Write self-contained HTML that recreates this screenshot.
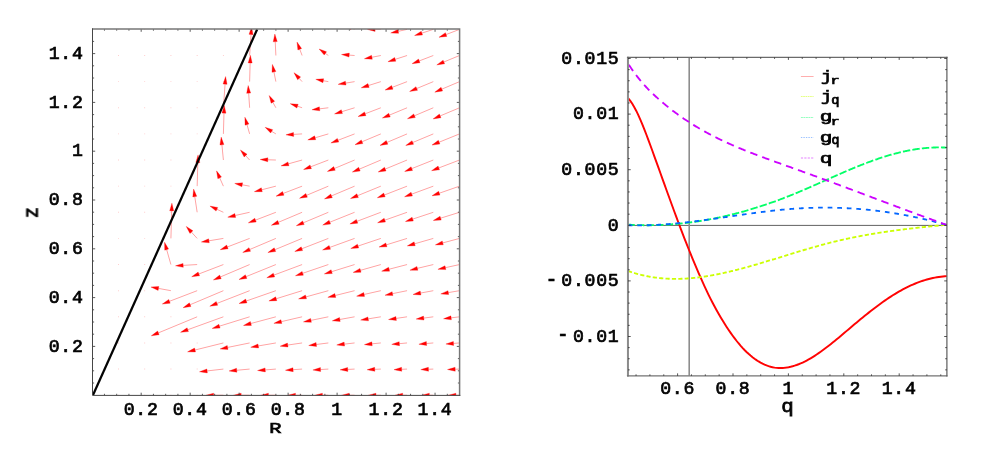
<!DOCTYPE html><html><head><meta charset="utf-8"><title>plot</title>
<style>html,body{margin:0;padding:0;background:#fff}svg{display:block}text{font-family:"Liberation Mono",monospace;font-weight:normal;fill:#000;stroke:#000;stroke-width:0.7px;letter-spacing:0.73px}</style></head><body>
<svg width="981" height="467" viewBox="0 0 981 467">
<rect width="981" height="467" fill="#fff"/>
<g opacity="0.99">
<defs><clipPath id="cl"><rect x="92.50" y="29.10" width="367.00" height="366.30"/></clipPath>
<clipPath id="cr"><rect x="628.30" y="57.40" width="318.60" height="318.45"/></clipPath></defs>
<g clip-path="url(#cl)">
<path d="M91.75,368.62 h0.9 v0.9 h-0.9 Z M91.75,342.49 h0.9 v0.9 h-0.9 Z M91.75,316.36 h0.9 v0.9 h-0.9 Z M91.75,290.23 h0.9 v0.9 h-0.9 Z M91.75,264.10 h0.9 v0.9 h-0.9 Z M91.75,237.97 h0.9 v0.9 h-0.9 Z M91.75,211.84 h0.9 v0.9 h-0.9 Z M91.75,185.71 h0.9 v0.9 h-0.9 Z M91.75,159.58 h0.9 v0.9 h-0.9 Z M91.75,133.45 h0.9 v0.9 h-0.9 Z M91.75,107.32 h0.9 v0.9 h-0.9 Z M91.75,81.19 h0.9 v0.9 h-0.9 Z M91.75,55.06 h0.9 v0.9 h-0.9 Z M91.75,28.93 h0.9 v0.9 h-0.9 Z M117.99,394.75 h0.9 v0.9 h-0.9 Z M117.99,368.62 h0.9 v0.9 h-0.9 Z M117.99,342.49 h0.9 v0.9 h-0.9 Z M117.99,316.36 h0.9 v0.9 h-0.9 Z M117.99,290.23 h0.9 v0.9 h-0.9 Z M117.99,264.10 h0.9 v0.9 h-0.9 Z M117.99,237.97 h0.9 v0.9 h-0.9 Z M117.99,211.84 h0.9 v0.9 h-0.9 Z M117.99,185.71 h0.9 v0.9 h-0.9 Z M117.99,159.58 h0.9 v0.9 h-0.9 Z M117.99,133.45 h0.9 v0.9 h-0.9 Z M117.99,107.32 h0.9 v0.9 h-0.9 Z M117.99,81.19 h0.9 v0.9 h-0.9 Z M117.99,55.06 h0.9 v0.9 h-0.9 Z M117.99,28.93 h0.9 v0.9 h-0.9 Z M144.23,394.75 h0.9 v0.9 h-0.9 Z M144.23,368.62 h0.9 v0.9 h-0.9 Z M144.23,342.49 h0.9 v0.9 h-0.9 Z M144.23,316.36 h0.9 v0.9 h-0.9 Z M144.23,290.23 h0.9 v0.9 h-0.9 Z M144.23,264.10 h0.9 v0.9 h-0.9 Z M144.23,237.97 h0.9 v0.9 h-0.9 Z M144.23,211.84 h0.9 v0.9 h-0.9 Z M144.23,185.71 h0.9 v0.9 h-0.9 Z M144.23,159.58 h0.9 v0.9 h-0.9 Z M144.23,133.45 h0.9 v0.9 h-0.9 Z M144.23,107.32 h0.9 v0.9 h-0.9 Z M144.23,81.19 h0.9 v0.9 h-0.9 Z M144.23,55.06 h0.9 v0.9 h-0.9 Z M144.23,28.93 h0.9 v0.9 h-0.9 Z M170.47,394.75 h0.9 v0.9 h-0.9 Z M170.47,368.62 h0.9 v0.9 h-0.9 Z M170.47,342.49 h0.9 v0.9 h-0.9 Z M170.47,316.36 h0.9 v0.9 h-0.9 Z M170.47,211.84 h0.9 v0.9 h-0.9 Z M170.47,185.71 h0.9 v0.9 h-0.9 Z M170.47,159.58 h0.9 v0.9 h-0.9 Z M170.47,133.45 h0.9 v0.9 h-0.9 Z M170.47,107.32 h0.9 v0.9 h-0.9 Z M170.47,81.19 h0.9 v0.9 h-0.9 Z M170.47,55.06 h0.9 v0.9 h-0.9 Z M170.47,28.93 h0.9 v0.9 h-0.9 Z M196.71,394.75 h0.9 v0.9 h-0.9 Z M196.71,368.62 h0.9 v0.9 h-0.9 Z M196.71,342.49 h0.9 v0.9 h-0.9 Z M196.71,159.58 h0.9 v0.9 h-0.9 Z M196.71,133.45 h0.9 v0.9 h-0.9 Z M196.71,107.32 h0.9 v0.9 h-0.9 Z M196.71,81.19 h0.9 v0.9 h-0.9 Z M196.71,55.06 h0.9 v0.9 h-0.9 Z M196.71,28.93 h0.9 v0.9 h-0.9 Z M222.95,81.19 h0.9 v0.9 h-0.9 Z M222.95,55.06 h0.9 v0.9 h-0.9 Z M222.95,28.93 h0.9 v0.9 h-0.9 Z M249.19,28.93 h0.9 v0.9 h-0.9 Z" fill="#ff9a9a" opacity="0.55"/>
<path d="M170.92,290.68 L158.50,288.42 M170.92,264.55 L166.65,249.59 M170.92,238.42 L171.70,210.83 M197.16,316.81 L158.41,332.87 M197.16,290.68 L169.48,301.30 M197.16,264.55 L183.17,265.38 M197.16,238.42 L191.43,232.12 M197.16,212.29 L194.77,196.64 M197.16,186.16 L197.83,162.58 M223.40,395.20 L213.64,395.23 M223.40,369.07 L207.12,370.93 M223.40,342.94 L195.04,350.00 M223.40,316.81 L187.78,329.71 M223.40,290.68 L190.17,304.71 M223.40,264.55 L198.84,273.97 M223.40,238.42 L208.93,240.80 M223.40,212.29 L216.91,209.31 M223.40,186.16 L219.66,177.85 M223.40,160.03 L221.92,144.78 M223.40,133.90 L223.99,113.12 M223.40,107.77 L225.07,84.23 M249.64,395.20 L241.17,395.23 M249.64,369.07 L236.74,370.27 M249.64,342.94 L227.63,347.43 M249.64,316.81 L219.49,326.17 M249.64,290.68 L216.95,303.42 M249.64,264.55 L220.46,276.93 M249.64,238.42 L227.42,246.95 M249.64,212.29 L235.24,215.47 M249.64,186.16 L242.27,184.82 M249.64,160.03 L245.62,155.61 M249.64,133.90 L246.98,124.59 M249.64,107.77 L248.67,93.22 M249.64,81.64 L250.17,62.96 M249.64,55.51 L251.05,34.51 M275.88,395.20 L268.42,395.22 M275.88,369.07 L265.23,369.91 M275.88,342.94 L258.31,345.95 M275.88,316.81 L250.89,323.49 M275.88,290.68 L246.30,300.99 M275.88,264.55 L246.12,276.62 M275.88,238.42 L249.77,249.49 M275.88,212.29 L255.51,220.11 M275.88,186.16 L261.80,189.75 M275.88,160.03 L267.82,159.77 M275.88,133.90 L271.67,131.33 M275.88,107.77 L272.87,102.27 M275.88,81.64 L273.92,71.93 M275.88,55.51 L275.22,41.71 M275.88,29.38 L276.36,12.35 M302.12,395.20 L295.49,395.22 M302.12,369.07 L293.09,369.69 M302.12,342.94 L287.73,345.06 M302.12,316.81 L281.38,321.63 M302.12,290.68 L276.24,298.72 M302.12,264.55 L273.99,275.05 M302.12,238.42 L274.95,249.68 M302.12,212.29 L278.43,222.30 M302.12,186.16 L283.25,193.40 M302.12,160.03 L288.47,163.82 M302.12,133.90 L293.60,134.40 M302.12,107.77 L297.54,106.19 M302.12,81.64 L299.14,78.37 M302.12,55.51 L299.75,49.27 M302.12,29.38 L300.63,19.61 M328.36,395.20 L322.42,395.22 M328.36,369.07 L320.55,369.54 M328.36,342.94 L316.33,344.49 M328.36,316.81 L310.98,320.36 M328.36,290.68 L305.99,296.89 M328.36,264.55 L302.74,273.27 M328.36,238.42 L301.91,248.73 M328.36,212.29 L303.42,222.75 M328.36,186.16 L306.62,195.31 M328.36,160.03 L310.75,166.79 M328.36,133.90 L315.17,137.78 M328.36,107.77 L319.58,108.83 M328.36,81.64 L323.33,80.72 M328.36,55.51 L325.40,53.43 M328.36,29.38 L325.97,25.47 M354.60,395.20 L349.25,395.22 M354.60,369.07 L347.75,369.44 M354.60,342.94 L344.36,344.11 M354.60,316.81 L339.86,319.48 M354.60,290.68 L335.29,295.49 M354.60,264.55 L331.69,271.66 M354.60,238.42 L329.80,247.40 M354.60,212.29 L329.82,222.23 M354.60,186.16 L331.55,195.89 M354.60,160.03 L334.47,168.47 M354.60,133.90 L338.06,140.25 M354.60,107.77 L341.87,111.66 M354.60,81.64 L345.70,83.10 M354.60,55.51 L349.17,55.11 M354.60,29.38 L351.52,27.96 M380.84,395.20 L376.00,395.21 M380.84,369.07 L374.77,369.37 M380.84,342.94 L372.01,343.84 M380.84,316.81 L368.20,318.87 M380.84,290.68 L364.13,294.44 M380.84,264.55 L360.52,270.31 M380.84,238.42 L358.07,246.06 M380.84,212.29 L357.10,221.27 M380.84,186.16 L357.62,195.66 M380.84,160.03 L359.42,169.11 M380.84,133.90 L362.08,141.73 M380.84,107.77 L365.23,113.76 M380.84,81.64 L368.56,85.51 M380.84,55.51 L371.93,57.26 M380.84,29.38 L375.10,29.39 M407.08,395.20 L402.69,395.21 M407.08,369.07 L401.66,369.31 M407.08,342.94 L399.37,343.66 M407.08,316.81 L396.14,318.42 M407.08,290.68 L392.53,293.65 M407.08,264.55 L389.10,269.22 M407.08,238.42 L386.40,244.84 M407.08,212.29 L384.81,220.18 M407.08,186.16 L384.46,194.98 M407.08,160.03 L385.28,169.06 M407.08,133.90 L387.06,142.39 M407.08,107.77 L389.48,115.09 M407.08,81.64 L392.29,87.32 M407.08,55.51 L395.24,59.33 M407.08,29.38 L398.22,31.34 M433.32,395.20 L429.33,395.21 M433.32,369.07 L428.46,369.27 M433.32,342.94 L426.53,343.52 M433.32,316.81 L423.77,318.09 M433.32,290.68 L420.58,293.06 M433.32,264.55 L417.40,268.35 M433.32,238.42 L414.66,243.79 M433.32,212.29 L412.71,219.12 M433.32,186.16 L411.76,194.12 M433.32,160.03 L411.81,168.60 M433.32,133.90 L412.80,142.48 M433.32,107.77 L414.52,115.74 M433.32,81.64 L416.74,88.51 M433.32,55.51 L419.26,60.91 M433.32,29.38 L421.89,33.13 M459.56,395.20 L455.93,395.21 M459.56,369.07 L455.18,369.24 M459.56,342.94 L453.54,343.41 M459.56,316.81 L451.16,317.85 M459.56,290.68 L448.34,292.60 M459.56,264.55 L445.44,267.66 M459.56,238.42 L442.76,242.91 M459.56,212.29 L440.64,218.16 M459.56,186.16 L439.29,193.22 M459.56,160.03 L438.79,167.94 M459.56,133.90 L439.12,142.19 M459.56,107.77 L440.19,115.91 M459.56,81.64 L441.84,89.15 M459.56,55.51 L443.87,61.99 M459.56,29.38 L446.15,34.53" stroke="#ff0000" stroke-width="0.55" fill="none" stroke-opacity="0.68"/>
<path d="M150.93,287.04 L158.86,286.45 L158.14,290.39 Z M164.54,242.18 L168.57,249.04 L164.73,250.13 Z M171.92,203.13 L173.70,210.88 L169.70,210.77 Z M151.29,335.81 L157.64,331.02 L159.17,334.72 Z M162.30,304.06 L168.77,299.43 L170.20,303.17 Z M175.48,265.83 L183.05,263.38 L183.29,267.37 Z M186.24,226.42 L192.91,230.77 L189.95,233.46 Z M193.61,189.03 L196.75,196.34 L192.79,196.94 Z M198.05,154.89 L199.83,162.64 L195.83,162.53 Z M205.94,395.25 L213.63,393.23 L213.64,397.23 Z M199.47,371.80 L206.89,368.94 L207.35,372.91 Z M187.57,351.86 L194.56,348.06 L195.53,351.94 Z M180.54,332.33 L187.10,327.83 L188.46,331.59 Z M183.07,307.71 L189.39,302.87 L190.94,306.56 Z M191.65,276.73 L198.13,272.11 L199.56,275.84 Z M201.33,242.05 L208.61,238.82 L209.26,242.77 Z M209.91,206.09 L217.75,207.49 L216.07,211.12 Z M216.50,170.83 L221.48,177.03 L217.83,178.67 Z M221.18,137.12 L223.91,144.59 L219.93,144.97 Z M224.21,105.42 L225.99,113.18 L221.99,113.06 Z M225.62,76.55 L227.07,84.37 L223.08,84.09 Z M233.47,395.25 L241.16,393.23 L241.17,397.23 Z M229.07,370.98 L236.55,368.28 L236.92,372.26 Z M220.08,348.98 L227.23,345.48 L228.03,349.39 Z M212.14,328.45 L218.90,324.26 L220.08,328.08 Z M209.78,306.22 L216.23,301.56 L217.68,305.29 Z M213.37,279.94 L219.68,275.09 L221.24,278.77 Z M220.23,249.71 L226.71,245.08 L228.14,248.81 Z M227.72,217.13 L234.81,213.52 L235.67,217.42 Z M234.70,183.44 L242.63,182.85 L241.91,186.79 Z M240.43,149.91 L247.09,154.26 L244.14,156.95 Z M244.87,117.18 L248.91,124.04 L245.06,125.13 Z M248.16,85.53 L250.66,93.08 L246.67,93.35 Z M250.39,55.26 L252.17,63.02 L248.17,62.90 Z M251.57,26.82 L253.05,34.64 L249.06,34.37 Z M260.72,395.25 L268.41,393.22 L268.43,397.22 Z M257.56,370.51 L265.08,367.91 L265.39,371.90 Z M250.72,347.26 L257.97,343.98 L258.65,347.93 Z M243.45,325.48 L250.37,321.56 L251.41,325.43 Z M239.03,303.52 L245.64,299.10 L246.96,302.88 Z M238.98,279.51 L245.37,274.76 L246.87,278.47 Z M242.69,252.49 L248.99,247.64 L250.56,251.33 Z M248.32,222.87 L254.79,218.24 L256.22,221.98 Z M254.34,191.66 L261.31,187.81 L262.29,191.69 Z M260.12,159.51 L267.88,157.77 L267.75,161.77 Z M265.10,127.32 L272.71,129.63 L270.63,133.04 Z M269.18,95.52 L274.63,101.31 L271.12,103.23 Z M272.39,64.38 L275.88,71.54 L271.96,72.33 Z M274.85,34.02 L277.22,41.62 L273.22,41.81 Z M276.58,4.66 L278.36,12.41 L274.36,12.30 Z M287.79,395.24 L295.48,393.22 L295.49,397.22 Z M285.40,370.21 L292.95,367.69 L293.22,371.68 Z M280.11,346.18 L287.44,343.08 L288.02,347.04 Z M273.88,323.37 L280.93,319.68 L281.83,323.58 Z M268.89,301.00 L275.65,296.81 L276.83,300.63 Z M266.78,277.74 L273.29,273.18 L274.69,276.92 Z M267.84,252.62 L274.19,247.83 L275.72,251.52 Z M271.34,225.30 L277.65,220.46 L279.21,224.14 Z M276.06,196.16 L282.53,191.53 L283.97,195.27 Z M281.05,165.89 L287.93,161.90 L289.00,165.75 Z M285.92,134.86 L293.49,132.41 L293.72,136.40 Z M290.26,103.68 L298.19,104.30 L296.88,108.08 Z M293.96,72.67 L300.62,77.02 L297.66,79.71 Z M297.01,42.07 L301.62,48.56 L297.88,49.98 Z M299.46,11.99 L302.60,19.30 L298.65,19.91 Z M314.72,395.24 L322.41,393.22 L322.42,397.22 Z M312.86,370.00 L320.43,367.54 L320.67,371.54 Z M308.69,345.47 L316.07,342.50 L316.58,346.47 Z M303.43,321.90 L310.58,318.40 L311.38,322.32 Z M298.57,298.95 L305.45,294.96 L306.52,298.82 Z M295.45,275.75 L302.10,271.38 L303.39,275.17 Z M294.74,251.53 L301.19,246.87 L302.64,250.59 Z M296.31,225.73 L302.64,220.91 L304.19,224.60 Z M299.52,198.30 L305.84,193.47 L307.40,197.15 Z M303.56,169.55 L310.03,164.92 L311.46,168.66 Z M307.78,139.95 L314.60,135.86 L315.73,139.70 Z M311.94,109.75 L319.34,106.84 L319.82,110.81 Z M315.76,79.34 L323.69,78.76 L322.97,82.69 Z M319.11,49.00 L326.55,51.79 L324.25,55.07 Z M321.96,18.90 L327.68,24.43 L324.27,26.51 Z M341.55,395.24 L349.24,393.22 L349.25,397.22 Z M340.06,369.86 L347.64,367.44 L347.86,371.44 Z M336.71,344.98 L344.14,342.12 L344.59,346.09 Z M332.28,320.86 L339.50,317.52 L340.21,321.45 Z M327.82,297.35 L334.81,293.55 L335.78,297.43 Z M324.34,273.95 L331.10,269.75 L332.29,273.57 Z M322.56,250.02 L329.12,245.52 L330.48,249.28 Z M322.68,225.10 L329.08,220.37 L330.57,224.09 Z M324.46,198.89 L330.77,194.05 L332.33,197.73 Z M327.37,171.44 L333.70,166.62 L335.25,170.31 Z M330.87,143.01 L337.34,138.38 L338.78,142.11 Z M334.51,113.92 L341.29,109.75 L342.46,113.58 Z M338.11,84.35 L345.38,81.13 L346.03,85.08 Z M341.49,54.54 L349.32,53.11 L349.03,57.10 Z M344.52,24.75 L352.35,26.15 L350.68,29.78 Z M368.30,395.24 L375.99,393.21 L376.01,397.21 Z M367.08,369.75 L374.67,367.37 L374.87,371.37 Z M364.35,344.63 L371.80,341.85 L372.21,345.83 Z M360.60,320.10 L367.88,316.89 L368.52,320.84 Z M356.61,296.13 L363.69,292.49 L364.57,296.39 Z M353.11,272.42 L359.97,268.39 L361.07,272.24 Z M350.77,248.50 L357.43,244.16 L358.70,247.95 Z M349.89,223.99 L356.39,219.39 L357.80,223.14 Z M350.49,198.57 L356.86,193.81 L358.38,197.51 Z M352.33,172.11 L358.64,167.27 L360.20,170.95 Z M354.97,144.70 L361.30,139.89 L362.85,143.58 Z M358.04,116.52 L364.52,111.89 L365.95,115.63 Z M361.22,87.82 L367.96,83.60 L369.17,87.42 Z M364.37,58.75 L371.54,55.30 L372.31,59.22 Z M367.40,29.41 L375.09,27.39 L375.10,31.39 Z M394.99,395.24 L402.68,393.21 L402.70,397.21 Z M393.97,369.66 L401.57,367.32 L401.75,371.31 Z M391.71,344.37 L399.19,341.66 L399.56,345.65 Z M388.52,319.54 L395.85,316.44 L396.43,320.40 Z M384.99,295.19 L392.13,291.69 L392.93,295.61 Z M381.65,271.16 L388.60,267.29 L389.60,271.16 Z M379.05,247.12 L385.81,242.93 L387.00,246.75 Z M377.56,222.75 L384.15,218.29 L385.48,222.06 Z M377.29,197.77 L383.73,193.11 L385.19,196.84 Z M378.17,172.01 L384.51,167.22 L386.05,170.91 Z M379.97,145.40 L386.28,140.55 L387.84,144.23 Z M382.37,118.04 L388.72,113.24 L390.25,116.93 Z M385.10,90.07 L391.57,85.45 L393.01,89.18 Z M387.91,61.69 L394.63,57.43 L395.85,61.23 Z M390.70,33.00 L397.78,29.39 L398.65,33.29 Z M421.63,395.24 L429.32,393.21 L429.34,397.21 Z M420.77,369.60 L428.38,367.28 L428.54,371.27 Z M418.86,344.17 L426.36,341.52 L426.70,345.51 Z M416.13,319.12 L423.50,316.11 L424.03,320.07 Z M413.01,294.47 L420.21,291.09 L420.95,295.02 Z M409.92,270.14 L416.94,266.41 L417.87,270.30 Z M407.26,245.92 L414.10,241.87 L415.21,245.72 Z M405.40,221.55 L412.08,217.22 L413.34,221.02 Z M404.53,196.78 L411.06,192.24 L412.45,195.99 Z M404.66,171.46 L411.07,166.75 L412.56,170.46 Z M405.70,145.45 L412.03,140.63 L413.57,144.32 Z M407.43,118.75 L413.74,113.90 L415.30,117.59 Z M409.62,91.46 L415.97,86.66 L417.50,90.36 Z M412.07,63.67 L418.54,59.04 L419.97,62.77 Z M414.58,35.54 L421.27,31.23 L422.52,35.03 Z M448.23,395.23 L455.92,393.21 L455.93,397.21 Z M447.49,369.54 L455.10,367.24 L455.26,371.24 Z M445.86,344.02 L453.38,341.42 L453.70,345.41 Z M443.52,318.79 L450.91,315.86 L451.40,319.83 Z M440.75,293.91 L448.00,290.63 L448.68,294.58 Z M437.92,269.32 L445.01,265.71 L445.87,269.62 Z M435.32,244.90 L442.24,240.98 L443.28,244.85 Z M433.29,220.45 L440.05,216.25 L441.23,220.07 Z M432.02,195.76 L438.63,191.34 L439.95,195.11 Z M431.59,170.68 L438.08,166.07 L439.50,169.81 Z M431.98,145.08 L438.37,140.33 L439.87,144.04 Z M433.10,118.90 L439.42,114.07 L440.97,117.76 Z M434.75,92.16 L441.06,87.31 L442.62,90.99 Z M436.75,64.92 L443.11,60.14 L444.63,63.84 Z M438.96,37.29 L445.43,32.66 L446.86,36.39 Z" fill="#ff0000" stroke="#ff0000" stroke-width="0.3"/>
<line x1="92.90" y1="395.20" x2="257.20" y2="29.30" stroke="#000" stroke-width="2.25"/>
</g>
<path d="M104.45,395.40 v-1.60 M104.45,29.10 v1.60 M92.50,383.00 h1.60 M459.50,383.00 h-1.60 M116.69,395.40 v-1.60 M116.69,29.10 v1.60 M92.50,370.80 h1.60 M459.50,370.80 h-1.60 M128.94,395.40 v-1.60 M128.94,29.10 v1.60 M92.50,358.60 h1.60 M459.50,358.60 h-1.60 M141.18,395.40 v-2.70 M141.18,29.10 v2.70 M92.50,346.40 h2.70 M459.50,346.40 h-2.70 M153.43,395.40 v-1.60 M153.43,29.10 v1.60 M92.50,334.20 h1.60 M459.50,334.20 h-1.60 M165.67,395.40 v-1.60 M165.67,29.10 v1.60 M92.50,322.00 h1.60 M459.50,322.00 h-1.60 M177.92,395.40 v-1.60 M177.92,29.10 v1.60 M92.50,309.80 h1.60 M459.50,309.80 h-1.60 M190.16,395.40 v-2.70 M190.16,29.10 v2.70 M92.50,297.60 h2.70 M459.50,297.60 h-2.70 M202.41,395.40 v-1.60 M202.41,29.10 v1.60 M92.50,285.40 h1.60 M459.50,285.40 h-1.60 M214.65,395.40 v-1.60 M214.65,29.10 v1.60 M92.50,273.20 h1.60 M459.50,273.20 h-1.60 M226.90,395.40 v-1.60 M226.90,29.10 v1.60 M92.50,261.00 h1.60 M459.50,261.00 h-1.60 M239.14,395.40 v-2.70 M239.14,29.10 v2.70 M92.50,248.80 h2.70 M459.50,248.80 h-2.70 M251.38,395.40 v-1.60 M251.38,29.10 v1.60 M92.50,236.60 h1.60 M459.50,236.60 h-1.60 M263.63,395.40 v-1.60 M263.63,29.10 v1.60 M92.50,224.40 h1.60 M459.50,224.40 h-1.60 M275.88,395.40 v-1.60 M275.88,29.10 v1.60 M92.50,212.20 h1.60 M459.50,212.20 h-1.60 M288.12,395.40 v-2.70 M288.12,29.10 v2.70 M92.50,200.00 h2.70 M459.50,200.00 h-2.70 M300.37,395.40 v-1.60 M300.37,29.10 v1.60 M92.50,187.80 h1.60 M459.50,187.80 h-1.60 M312.61,395.40 v-1.60 M312.61,29.10 v1.60 M92.50,175.60 h1.60 M459.50,175.60 h-1.60 M324.86,395.40 v-1.60 M324.86,29.10 v1.60 M92.50,163.40 h1.60 M459.50,163.40 h-1.60 M337.10,395.40 v-2.70 M337.10,29.10 v2.70 M92.50,151.20 h2.70 M459.50,151.20 h-2.70 M349.35,395.40 v-1.60 M349.35,29.10 v1.60 M92.50,139.00 h1.60 M459.50,139.00 h-1.60 M361.59,395.40 v-1.60 M361.59,29.10 v1.60 M92.50,126.80 h1.60 M459.50,126.80 h-1.60 M373.84,395.40 v-1.60 M373.84,29.10 v1.60 M92.50,114.60 h1.60 M459.50,114.60 h-1.60 M386.08,395.40 v-2.70 M386.08,29.10 v2.70 M92.50,102.40 h2.70 M459.50,102.40 h-2.70 M398.32,395.40 v-1.60 M398.32,29.10 v1.60 M92.50,90.20 h1.60 M459.50,90.20 h-1.60 M410.57,395.40 v-1.60 M410.57,29.10 v1.60 M92.50,78.00 h1.60 M459.50,78.00 h-1.60 M422.81,395.40 v-1.60 M422.81,29.10 v1.60 M92.50,65.80 h1.60 M459.50,65.80 h-1.60 M435.06,395.40 v-2.70 M435.06,29.10 v2.70 M92.50,53.60 h2.70 M459.50,53.60 h-2.70 M447.31,395.40 v-1.60 M447.31,29.10 v1.60 M92.50,41.40 h1.60 M459.50,41.40 h-1.60" stroke="#303030" stroke-width="0.8" fill="none"/>
<path d="M92.00,29.10 H459.60 V395.90" fill="none" stroke="#757575" stroke-width="1.5"/>
<path d="M92.50,28.40 V395.40 H460.30" fill="none" stroke="#444444" stroke-width="1.0"/>
<text x="141.18" y="415.00" font-size="18.20" text-anchor="middle">0.2</text>
<text x="83.60" y="351.60" font-size="18.20" text-anchor="end">0.2</text>
<text x="190.16" y="415.00" font-size="18.20" text-anchor="middle">0.4</text>
<text x="83.60" y="302.80" font-size="18.20" text-anchor="end">0.4</text>
<text x="239.14" y="415.00" font-size="18.20" text-anchor="middle">0.6</text>
<text x="83.60" y="254.00" font-size="18.20" text-anchor="end">0.6</text>
<text x="288.12" y="415.00" font-size="18.20" text-anchor="middle">0.8</text>
<text x="83.60" y="205.20" font-size="18.20" text-anchor="end">0.8</text>
<text x="337.10" y="415.00" font-size="18.20" text-anchor="middle">1</text>
<text x="83.60" y="156.40" font-size="18.20" text-anchor="end">1</text>
<text x="386.08" y="415.00" font-size="18.20" text-anchor="middle">1.2</text>
<text x="83.60" y="107.60" font-size="18.20" text-anchor="end">1.2</text>
<text x="435.06" y="415.00" font-size="18.20" text-anchor="middle">1.4</text>
<text x="83.60" y="58.80" font-size="18.20" text-anchor="end">1.4</text>
<text transform="matrix(0.2039 0 0 0.1485 269.17 432.90)" font-size="100" style="letter-spacing:0;stroke-width:4.54px;font-weight:normal">R</text>
<text transform="matrix(0 -0.1848 0.2094 0 37.60 218.19)" font-size="100" style="letter-spacing:0;stroke-width:4.06px;font-weight:normal">z</text>
<g clip-path="url(#cr)">
<line x1="628.30" y1="225.40" x2="946.90" y2="225.40" stroke="#606060" stroke-width="1.0"/>
<line x1="689.20" y1="57.40" x2="689.20" y2="375.85" stroke="#8c8c8c" stroke-width="1.6"/>
<path d="M628.30,98.48 L630.30,100.89 L632.31,103.80 L634.31,107.17 L636.32,110.94 L638.32,115.09 L640.32,119.56 L642.33,124.32 L644.33,129.31 L646.33,134.50 L648.34,139.83 L650.34,145.28 L652.35,150.79 L654.35,156.32 L656.35,161.88 L658.36,167.44 L660.36,173.02 L662.36,178.59 L664.37,184.16 L666.37,189.72 L668.38,195.26 L670.38,200.78 L672.38,206.27 L674.39,211.73 L676.39,217.15 L678.39,222.52 L680.40,227.84 L682.40,233.10 L684.41,238.30 L686.41,243.44 L688.41,248.49 L690.42,253.47 L692.42,258.37 L694.42,263.19 L696.43,267.93 L698.43,272.59 L700.44,277.18 L702.44,281.70 L704.44,286.12 L706.45,290.43 L708.45,294.60 L710.45,298.64 L712.46,302.54 L714.46,306.32 L716.47,309.98 L718.47,313.53 L720.47,316.96 L722.48,320.29 L724.48,323.53 L726.48,326.67 L728.49,329.71 L730.49,332.64 L732.50,335.47 L734.50,338.18 L736.50,340.77 L738.51,343.25 L740.51,345.60 L742.52,347.84 L744.52,349.95 L746.52,351.95 L748.53,353.83 L750.53,355.59 L752.53,357.24 L754.54,358.76 L756.54,360.17 L758.55,361.46 L760.55,362.63 L762.55,363.69 L764.56,364.63 L766.56,365.46 L768.56,366.16 L770.57,366.76 L772.57,367.23 L774.58,367.60 L776.58,367.85 L778.58,368.00 L780.59,368.04 L782.59,367.98 L784.59,367.83 L786.60,367.58 L788.60,367.24 L790.61,366.81 L792.61,366.29 L794.61,365.69 L796.62,365.01 L798.62,364.26 L800.62,363.43 L802.63,362.53 L804.63,361.56 L806.64,360.52 L808.64,359.43 L810.64,358.28 L812.65,357.07 L814.65,355.81 L816.65,354.49 L818.66,353.13 L820.66,351.73 L822.67,350.29 L824.67,348.81 L826.67,347.29 L828.68,345.75 L830.68,344.17 L832.68,342.57 L834.69,340.94 L836.69,339.30 L838.70,337.64 L840.70,335.96 L842.70,334.28 L844.71,332.58 L846.71,330.88 L848.72,329.18 L850.72,327.49 L852.72,325.79 L854.73,324.10 L856.73,322.43 L858.73,320.76 L860.74,319.10 L862.74,317.46 L864.75,315.83 L866.75,314.22 L868.75,312.62 L870.76,311.04 L872.76,309.49 L874.76,307.95 L876.77,306.44 L878.77,304.95 L880.78,303.48 L882.78,302.04 L884.78,300.63 L886.79,299.25 L888.79,297.90 L890.79,296.58 L892.80,295.30 L894.80,294.05 L896.81,292.84 L898.81,291.66 L900.81,290.53 L902.82,289.43 L904.82,288.37 L906.82,287.36 L908.83,286.39 L910.83,285.46 L912.84,284.57 L914.84,283.73 L916.84,282.93 L918.85,282.17 L920.85,281.45 L922.85,280.78 L924.86,280.15 L926.86,279.56 L928.87,279.02 L930.87,278.52 L932.87,278.07 L934.88,277.66 L936.88,277.29 L938.88,276.97 L940.89,276.70 L942.89,276.47 L944.90,276.28 L946.90,276.14" stroke="#ff0000" stroke-width="1.95" fill="none"/>
<path d="M628.30,271.06 L629.10,271.34 L629.90,271.61 L630.70,271.88 L631.49,272.15 L632.29,272.40 L633.09,272.66 L633.89,272.90 L634.69,273.15 L635.49,273.38 L636.28,273.61 L637.08,273.84 L637.88,274.06 L638.68,274.27 L639.48,274.48 L640.28,274.68 L641.08,274.88 L641.87,275.07 L642.67,275.26 L643.47,275.44 L644.27,275.62 L645.07,275.79 L645.87,275.96 L646.67,276.12 L647.46,276.28 L648.26,276.43 L649.06,276.58 L649.86,276.72 L650.66,276.86 L651.46,276.99 L652.25,277.12 L653.05,277.25 L653.85,277.36 L654.65,277.48 L655.45,277.59 L656.25,277.69 L657.05,277.79 L657.84,277.89 L658.64,277.98 L659.44,278.06 L660.24,278.14 L661.04,278.22 L661.84,278.29 L662.64,278.36 L663.43,278.43 L664.23,278.49 L665.03,278.54 L665.83,278.59 L666.63,278.64 L667.43,278.68 L668.22,278.72 L669.02,278.75 L669.82,278.78 L670.62,278.81 L671.42,278.83 L672.22,278.85 L673.02,278.86 L673.81,278.87 L674.61,278.88 L675.41,278.88 L676.21,278.88 L677.01,278.87 L677.81,278.86 L678.61,278.85 L679.40,278.83 L680.20,278.81 L681.00,278.79 L681.80,278.76 L682.60,278.73 L683.40,278.69 L684.19,278.65 L684.99,278.61 L685.79,278.56 L686.59,278.52 L687.39,278.46 L688.19,278.41 L688.99,278.35 L689.78,278.28 L690.58,278.22 L691.38,278.15 L692.18,278.08 L692.98,278.00 L693.78,277.92 L694.58,277.84 L695.37,277.75 L696.17,277.66 L696.97,277.57 L697.77,277.48 L698.57,277.38 L699.37,277.28 L700.16,277.18 L700.96,277.07 L701.76,276.96 L702.56,276.85 L703.36,276.73 L704.16,276.62 L704.96,276.50 L705.75,276.37 L706.55,276.25 L707.35,276.12 L708.15,275.99 L708.95,275.85 L709.75,275.72 L710.55,275.58 L711.34,275.44 L712.14,275.30 L712.94,275.15 L713.74,275.00 L714.54,274.85 L715.34,274.70 L716.13,274.54 L716.93,274.38 L717.73,274.22 L718.53,274.06 L719.33,273.90 L720.13,273.73 L720.93,273.56 L721.72,273.39 L722.52,273.22 L723.32,273.04 L724.12,272.87 L724.92,272.69 L725.72,272.51 L726.52,272.33 L727.31,272.14 L728.11,271.96 L728.91,271.77 L729.71,271.58 L730.51,271.39 L731.31,271.19 L732.10,271.00 L732.90,270.80 L733.70,270.60 L734.50,270.41 L735.30,270.20 L736.10,270.00 L736.90,269.80 L737.69,269.59 L738.49,269.38 L739.29,269.18 L740.09,268.97 L740.89,268.76 L741.69,268.54 L742.48,268.33 L743.28,268.11 L744.08,267.90 L744.88,267.68 L745.68,267.46 L746.48,267.24 L747.28,267.02 L748.07,266.80 L748.87,266.58 L749.67,266.35 L750.47,266.13 L751.27,265.90 L752.07,265.68 L752.87,265.45 L753.66,265.22 L754.46,264.99 L755.26,264.76 L756.06,264.53 L756.86,264.29 L757.66,264.06 L758.45,263.83 L759.25,263.59 L760.05,263.36 L760.85,263.12 L761.65,262.88 L762.45,262.65 L763.25,262.41 L764.04,262.17 L764.84,261.93 L765.64,261.69 L766.44,261.45 L767.24,261.21 L768.04,260.97 L768.84,260.72 L769.63,260.48 L770.43,260.24 L771.23,260.00 L772.03,259.75 L772.83,259.51 L773.63,259.26 L774.42,259.02 L775.22,258.77 L776.02,258.53 L776.82,258.28 L777.62,258.04 L778.42,257.79 L779.22,257.55 L780.01,257.30 L780.81,257.06 L781.61,256.81 L782.41,256.56 L783.21,256.32 L784.01,256.07 L784.81,255.83 L785.60,255.58 L786.40,255.33 L787.20,255.09 L788.00,254.84 L788.80,254.60 L789.60,254.35 L790.39,254.11 L791.19,253.86 L791.99,253.62 L792.79,253.37 L793.59,253.13 L794.39,252.89 L795.19,252.64 L795.98,252.40 L796.78,252.16 L797.58,251.92 L798.38,251.67 L799.18,251.43 L799.98,251.19 L800.78,250.95 L801.57,250.71 L802.37,250.47 L803.17,250.24 L803.97,250.00 L804.77,249.76 L805.57,249.53 L806.36,249.29 L807.16,249.05 L807.96,248.82 L808.76,248.59 L809.56,248.35 L810.36,248.12 L811.16,247.89 L811.95,247.66 L812.75,247.43 L813.55,247.21 L814.35,246.98 L815.15,246.75 L815.95,246.53 L816.75,246.30 L817.54,246.08 L818.34,245.86 L819.14,245.64 L819.94,245.42 L820.74,245.20 L821.54,244.98 L822.33,244.76 L823.13,244.55 L823.93,244.33 L824.73,244.12 L825.53,243.91 L826.33,243.70 L827.13,243.49 L827.92,243.29 L828.72,243.08 L829.52,242.88 L830.32,242.67 L831.12,242.47 L831.92,242.27 L832.72,242.07 L833.51,241.88 L834.31,241.68 L835.11,241.49 L835.91,241.29 L836.71,241.10 L837.51,240.91 L838.30,240.72 L839.10,240.54 L839.90,240.35 L840.70,240.17 L841.50,239.99 L842.30,239.80 L843.10,239.62 L843.89,239.45 L844.69,239.27 L845.49,239.09 L846.29,238.92 L847.09,238.75 L847.89,238.57 L848.68,238.40 L849.48,238.24 L850.28,238.07 L851.08,237.90 L851.88,237.74 L852.68,237.57 L853.48,237.41 L854.27,237.25 L855.07,237.09 L855.87,236.93 L856.67,236.77 L857.47,236.62 L858.27,236.46 L859.07,236.31 L859.86,236.15 L860.66,236.00 L861.46,235.85 L862.26,235.70 L863.06,235.56 L863.86,235.41 L864.65,235.26 L865.45,235.12 L866.25,234.97 L867.05,234.83 L867.85,234.69 L868.65,234.55 L869.45,234.41 L870.24,234.27 L871.04,234.14 L871.84,234.00 L872.64,233.87 L873.44,233.73 L874.24,233.60 L875.04,233.47 L875.83,233.34 L876.63,233.21 L877.43,233.08 L878.23,232.95 L879.03,232.83 L879.83,232.70 L880.62,232.58 L881.42,232.45 L882.22,232.33 L883.02,232.21 L883.82,232.09 L884.62,231.97 L885.42,231.85 L886.21,231.73 L887.01,231.62 L887.81,231.50 L888.61,231.39 L889.41,231.27 L890.21,231.16 L891.01,231.05 L891.80,230.93 L892.60,230.82 L893.40,230.71 L894.20,230.60 L895.00,230.50 L895.80,230.39 L896.59,230.28 L897.39,230.18 L898.19,230.07 L898.99,229.97 L899.79,229.86 L900.59,229.76 L901.39,229.66 L902.18,229.56 L902.98,229.46 L903.78,229.36 L904.58,229.26 L905.38,229.16 L906.18,229.06 L906.98,228.96 L907.77,228.87 L908.57,228.77 L909.37,228.68 L910.17,228.58 L910.97,228.49 L911.77,228.40 L912.56,228.30 L913.36,228.21 L914.16,228.12 L914.96,228.03 L915.76,227.94 L916.56,227.85 L917.36,227.76 L918.15,227.67 L918.95,227.59 L919.75,227.50 L920.55,227.41 L921.35,227.33 L922.15,227.24 L922.95,227.16 L923.74,227.07 L924.54,226.99 L925.34,226.90 L926.14,226.82 L926.94,226.74 L927.74,226.66 L928.53,226.58 L929.33,226.49 L930.13,226.41 L930.93,226.33 L931.73,226.25 L932.53,226.17 L933.33,226.09 L934.12,226.02 L934.92,225.94 L935.72,225.86 L936.52,225.78 L937.32,225.71 L938.12,225.63 L938.92,225.55 L939.71,225.48 L940.51,225.40 L941.31,225.33 L942.11,225.25 L942.91,225.18 L943.71,225.10 L944.50,225.03 L945.30,224.95 L946.10,224.88 L946.90,224.81" stroke="#ccff00" stroke-width="1.85" fill="none" stroke-dasharray="4.20 2.20" stroke-dashoffset="0.34"/>
<path d="M628.30,224.65 L629.10,224.70 L629.90,224.74 L630.70,224.79 L631.49,224.83 L632.29,224.87 L633.09,224.90 L633.89,224.94 L634.69,224.97 L635.49,225.01 L636.28,225.03 L637.08,225.06 L637.88,225.09 L638.68,225.11 L639.48,225.13 L640.28,225.15 L641.08,225.17 L641.87,225.18 L642.67,225.20 L643.47,225.21 L644.27,225.22 L645.07,225.22 L645.87,225.23 L646.67,225.23 L647.46,225.23 L648.26,225.23 L649.06,225.23 L649.86,225.22 L650.66,225.22 L651.46,225.21 L652.25,225.20 L653.05,225.18 L653.85,225.17 L654.65,225.15 L655.45,225.13 L656.25,225.11 L657.05,225.09 L657.84,225.07 L658.64,225.04 L659.44,225.01 L660.24,224.98 L661.04,224.95 L661.84,224.91 L662.64,224.88 L663.43,224.84 L664.23,224.80 L665.03,224.75 L665.83,224.71 L666.63,224.66 L667.43,224.62 L668.22,224.57 L669.02,224.51 L669.82,224.46 L670.62,224.40 L671.42,224.35 L672.22,224.29 L673.02,224.22 L673.81,224.16 L674.61,224.09 L675.41,224.03 L676.21,223.96 L677.01,223.89 L677.81,223.81 L678.61,223.74 L679.40,223.66 L680.20,223.58 L681.00,223.50 L681.80,223.42 L682.60,223.33 L683.40,223.25 L684.19,223.16 L684.99,223.07 L685.79,222.98 L686.59,222.88 L687.39,222.79 L688.19,222.69 L688.99,222.59 L689.78,222.49 L690.58,222.38 L691.38,222.28 L692.18,222.17 L692.98,222.06 L693.78,221.95 L694.58,221.84 L695.37,221.72 L696.17,221.61 L696.97,221.49 L697.77,221.37 L698.57,221.24 L699.37,221.12 L700.16,220.99 L700.96,220.87 L701.76,220.74 L702.56,220.61 L703.36,220.47 L704.16,220.34 L704.96,220.20 L705.75,220.06 L706.55,219.92 L707.35,219.78 L708.15,219.63 L708.95,219.49 L709.75,219.34 L710.55,219.19 L711.34,219.04 L712.14,218.89 L712.94,218.73 L713.74,218.57 L714.54,218.42 L715.34,218.25 L716.13,218.09 L716.93,217.93 L717.73,217.76 L718.53,217.59 L719.33,217.43 L720.13,217.25 L720.93,217.08 L721.72,216.91 L722.52,216.73 L723.32,216.55 L724.12,216.37 L724.92,216.19 L725.72,216.01 L726.52,215.82 L727.31,215.63 L728.11,215.44 L728.91,215.25 L729.71,215.06 L730.51,214.87 L731.31,214.67 L732.10,214.47 L732.90,214.27 L733.70,214.07 L734.50,213.87 L735.30,213.66 L736.10,213.46 L736.90,213.25 L737.69,213.04 L738.49,212.83 L739.29,212.61 L740.09,212.40 L740.89,212.18 L741.69,211.96 L742.48,211.74 L743.28,211.52 L744.08,211.30 L744.88,211.07 L745.68,210.84 L746.48,210.62 L747.28,210.38 L748.07,210.15 L748.87,209.92 L749.67,209.68 L750.47,209.44 L751.27,209.21 L752.07,208.97 L752.87,208.72 L753.66,208.48 L754.46,208.23 L755.26,207.98 L756.06,207.74 L756.86,207.48 L757.66,207.23 L758.45,206.98 L759.25,206.72 L760.05,206.46 L760.85,206.21 L761.65,205.94 L762.45,205.68 L763.25,205.42 L764.04,205.15 L764.84,204.88 L765.64,204.61 L766.44,204.34 L767.24,204.07 L768.04,203.80 L768.84,203.52 L769.63,203.24 L770.43,202.96 L771.23,202.68 L772.03,202.40 L772.83,202.12 L773.63,201.83 L774.42,201.54 L775.22,201.26 L776.02,200.97 L776.82,200.67 L777.62,200.38 L778.42,200.08 L779.22,199.79 L780.01,199.49 L780.81,199.19 L781.61,198.89 L782.41,198.58 L783.21,198.28 L784.01,197.97 L784.81,197.66 L785.60,197.35 L786.40,197.04 L787.20,196.73 L788.00,196.42 L788.80,196.10 L789.60,195.78 L790.39,195.46 L791.19,195.14 L791.99,194.82 L792.79,194.50 L793.59,194.17 L794.39,193.84 L795.19,193.51 L795.98,193.18 L796.78,192.85 L797.58,192.52 L798.38,192.19 L799.18,191.85 L799.98,191.51 L800.78,191.18 L801.57,190.84 L802.37,190.50 L803.17,190.16 L803.97,189.81 L804.77,189.47 L805.57,189.13 L806.36,188.78 L807.16,188.43 L807.96,188.09 L808.76,187.74 L809.56,187.39 L810.36,187.04 L811.16,186.69 L811.95,186.34 L812.75,185.99 L813.55,185.64 L814.35,185.28 L815.15,184.93 L815.95,184.58 L816.75,184.22 L817.54,183.87 L818.34,183.51 L819.14,183.16 L819.94,182.80 L820.74,182.45 L821.54,182.09 L822.33,181.74 L823.13,181.38 L823.93,181.02 L824.73,180.67 L825.53,180.31 L826.33,179.95 L827.13,179.60 L827.92,179.24 L828.72,178.89 L829.52,178.53 L830.32,178.17 L831.12,177.82 L831.92,177.46 L832.72,177.11 L833.51,176.76 L834.31,176.40 L835.11,176.05 L835.91,175.70 L836.71,175.34 L837.51,174.99 L838.30,174.64 L839.10,174.29 L839.90,173.94 L840.70,173.59 L841.50,173.24 L842.30,172.90 L843.10,172.55 L843.89,172.20 L844.69,171.86 L845.49,171.52 L846.29,171.17 L847.09,170.83 L847.89,170.49 L848.68,170.15 L849.48,169.81 L850.28,169.48 L851.08,169.14 L851.88,168.80 L852.68,168.47 L853.48,168.14 L854.27,167.81 L855.07,167.48 L855.87,167.15 L856.67,166.83 L857.47,166.50 L858.27,166.18 L859.07,165.86 L859.86,165.54 L860.66,165.22 L861.46,164.90 L862.26,164.59 L863.06,164.28 L863.86,163.97 L864.65,163.66 L865.45,163.35 L866.25,163.05 L867.05,162.74 L867.85,162.44 L868.65,162.14 L869.45,161.85 L870.24,161.55 L871.04,161.26 L871.84,160.97 L872.64,160.68 L873.44,160.40 L874.24,160.11 L875.04,159.83 L875.83,159.56 L876.63,159.28 L877.43,159.01 L878.23,158.73 L879.03,158.47 L879.83,158.20 L880.62,157.94 L881.42,157.68 L882.22,157.42 L883.02,157.16 L883.82,156.91 L884.62,156.66 L885.42,156.41 L886.21,156.16 L887.01,155.92 L887.81,155.68 L888.61,155.45 L889.41,155.21 L890.21,154.98 L891.01,154.75 L891.80,154.53 L892.60,154.30 L893.40,154.09 L894.20,153.87 L895.00,153.66 L895.80,153.45 L896.59,153.24 L897.39,153.03 L898.19,152.83 L898.99,152.64 L899.79,152.44 L900.59,152.25 L901.39,152.06 L902.18,151.88 L902.98,151.70 L903.78,151.52 L904.58,151.34 L905.38,151.17 L906.18,151.01 L906.98,150.84 L907.77,150.68 L908.57,150.52 L909.37,150.37 L910.17,150.22 L910.97,150.07 L911.77,149.93 L912.56,149.79 L913.36,149.65 L914.16,149.52 L914.96,149.39 L915.76,149.27 L916.56,149.15 L917.36,149.03 L918.15,148.92 L918.95,148.81 L919.75,148.70 L920.55,148.60 L921.35,148.51 L922.15,148.41 L922.95,148.32 L923.74,148.24 L924.54,148.16 L925.34,148.08 L926.14,148.01 L926.94,147.94 L927.74,147.87 L928.53,147.81 L929.33,147.76 L930.13,147.71 L930.93,147.66 L931.73,147.61 L932.53,147.58 L933.33,147.54 L934.12,147.51 L934.92,147.49 L935.72,147.46 L936.52,147.45 L937.32,147.44 L938.12,147.43 L938.92,147.42 L939.71,147.43 L940.51,147.43 L941.31,147.44 L942.11,147.46 L942.91,147.48 L943.71,147.50 L944.50,147.53 L945.30,147.57 L946.10,147.61 L946.90,147.65" stroke="#00ff66" stroke-width="1.85" fill="none" stroke-dasharray="7.40 2.20" stroke-dashoffset="0.98"/>
<path d="M628.30,225.22 L629.10,225.24 L629.90,225.27 L630.70,225.29 L631.49,225.31 L632.29,225.33 L633.09,225.34 L633.89,225.36 L634.69,225.37 L635.49,225.38 L636.28,225.38 L637.08,225.39 L637.88,225.39 L638.68,225.39 L639.48,225.39 L640.28,225.39 L641.08,225.38 L641.87,225.37 L642.67,225.37 L643.47,225.35 L644.27,225.34 L645.07,225.33 L645.87,225.31 L646.67,225.29 L647.46,225.27 L648.26,225.25 L649.06,225.22 L649.86,225.19 L650.66,225.17 L651.46,225.14 L652.25,225.10 L653.05,225.07 L653.85,225.04 L654.65,225.00 L655.45,224.96 L656.25,224.92 L657.05,224.88 L657.84,224.83 L658.64,224.79 L659.44,224.74 L660.24,224.69 L661.04,224.64 L661.84,224.59 L662.64,224.54 L663.43,224.48 L664.23,224.43 L665.03,224.37 L665.83,224.31 L666.63,224.25 L667.43,224.19 L668.22,224.13 L669.02,224.06 L669.82,224.00 L670.62,223.93 L671.42,223.86 L672.22,223.79 L673.02,223.72 L673.81,223.65 L674.61,223.57 L675.41,223.50 L676.21,223.42 L677.01,223.34 L677.81,223.27 L678.61,223.19 L679.40,223.11 L680.20,223.02 L681.00,222.94 L681.80,222.86 L682.60,222.77 L683.40,222.68 L684.19,222.60 L684.99,222.51 L685.79,222.42 L686.59,222.33 L687.39,222.24 L688.19,222.14 L688.99,222.05 L689.78,221.96 L690.58,221.86 L691.38,221.77 L692.18,221.67 L692.98,221.57 L693.78,221.47 L694.58,221.37 L695.37,221.27 L696.17,221.17 L696.97,221.07 L697.77,220.97 L698.57,220.87 L699.37,220.76 L700.16,220.66 L700.96,220.55 L701.76,220.45 L702.56,220.34 L703.36,220.24 L704.16,220.13 L704.96,220.02 L705.75,219.91 L706.55,219.80 L707.35,219.69 L708.15,219.58 L708.95,219.47 L709.75,219.36 L710.55,219.25 L711.34,219.14 L712.14,219.03 L712.94,218.91 L713.74,218.80 L714.54,218.69 L715.34,218.57 L716.13,218.46 L716.93,218.34 L717.73,218.23 L718.53,218.11 L719.33,218.00 L720.13,217.88 L720.93,217.77 L721.72,217.65 L722.52,217.54 L723.32,217.42 L724.12,217.31 L724.92,217.19 L725.72,217.07 L726.52,216.96 L727.31,216.84 L728.11,216.72 L728.91,216.61 L729.71,216.49 L730.51,216.37 L731.31,216.26 L732.10,216.14 L732.90,216.02 L733.70,215.91 L734.50,215.79 L735.30,215.68 L736.10,215.56 L736.90,215.44 L737.69,215.33 L738.49,215.21 L739.29,215.10 L740.09,214.98 L740.89,214.87 L741.69,214.75 L742.48,214.64 L743.28,214.53 L744.08,214.41 L744.88,214.30 L745.68,214.19 L746.48,214.07 L747.28,213.96 L748.07,213.85 L748.87,213.74 L749.67,213.63 L750.47,213.52 L751.27,213.41 L752.07,213.30 L752.87,213.19 L753.66,213.08 L754.46,212.98 L755.26,212.87 L756.06,212.76 L756.86,212.66 L757.66,212.55 L758.45,212.45 L759.25,212.34 L760.05,212.24 L760.85,212.14 L761.65,212.04 L762.45,211.93 L763.25,211.83 L764.04,211.73 L764.84,211.64 L765.64,211.54 L766.44,211.44 L767.24,211.35 L768.04,211.25 L768.84,211.16 L769.63,211.06 L770.43,210.97 L771.23,210.88 L772.03,210.79 L772.83,210.70 L773.63,210.61 L774.42,210.52 L775.22,210.43 L776.02,210.35 L776.82,210.26 L777.62,210.18 L778.42,210.10 L779.22,210.02 L780.01,209.94 L780.81,209.86 L781.61,209.78 L782.41,209.70 L783.21,209.63 L784.01,209.55 L784.81,209.48 L785.60,209.41 L786.40,209.34 L787.20,209.27 L788.00,209.20 L788.80,209.14 L789.60,209.07 L790.39,209.01 L791.19,208.94 L791.99,208.88 L792.79,208.82 L793.59,208.77 L794.39,208.71 L795.19,208.65 L795.98,208.60 L796.78,208.55 L797.58,208.50 L798.38,208.45 L799.18,208.40 L799.98,208.35 L800.78,208.31 L801.57,208.27 L802.37,208.22 L803.17,208.18 L803.97,208.14 L804.77,208.11 L805.57,208.07 L806.36,208.04 L807.16,208.00 L807.96,207.97 L808.76,207.94 L809.56,207.91 L810.36,207.88 L811.16,207.86 L811.95,207.83 L812.75,207.81 L813.55,207.79 L814.35,207.77 L815.15,207.75 L815.95,207.73 L816.75,207.72 L817.54,207.70 L818.34,207.69 L819.14,207.68 L819.94,207.67 L820.74,207.66 L821.54,207.65 L822.33,207.65 L823.13,207.65 L823.93,207.64 L824.73,207.64 L825.53,207.64 L826.33,207.64 L827.13,207.65 L827.92,207.65 L828.72,207.66 L829.52,207.67 L830.32,207.68 L831.12,207.69 L831.92,207.70 L832.72,207.71 L833.51,207.73 L834.31,207.74 L835.11,207.76 L835.91,207.78 L836.71,207.80 L837.51,207.82 L838.30,207.85 L839.10,207.87 L839.90,207.90 L840.70,207.93 L841.50,207.96 L842.30,207.99 L843.10,208.02 L843.89,208.06 L844.69,208.09 L845.49,208.13 L846.29,208.17 L847.09,208.21 L847.89,208.25 L848.68,208.30 L849.48,208.34 L850.28,208.39 L851.08,208.43 L851.88,208.48 L852.68,208.53 L853.48,208.59 L854.27,208.64 L855.07,208.70 L855.87,208.75 L856.67,208.81 L857.47,208.87 L858.27,208.93 L859.07,208.99 L859.86,209.06 L860.66,209.12 L861.46,209.19 L862.26,209.26 L863.06,209.33 L863.86,209.40 L864.65,209.47 L865.45,209.55 L866.25,209.62 L867.05,209.70 L867.85,209.78 L868.65,209.86 L869.45,209.94 L870.24,210.03 L871.04,210.11 L871.84,210.20 L872.64,210.29 L873.44,210.38 L874.24,210.47 L875.04,210.56 L875.83,210.65 L876.63,210.75 L877.43,210.85 L878.23,210.95 L879.03,211.05 L879.83,211.15 L880.62,211.25 L881.42,211.35 L882.22,211.46 L883.02,211.57 L883.82,211.68 L884.62,211.79 L885.42,211.90 L886.21,212.01 L887.01,212.13 L887.81,212.25 L888.61,212.36 L889.41,212.48 L890.21,212.60 L891.01,212.73 L891.80,212.85 L892.60,212.98 L893.40,213.10 L894.20,213.23 L895.00,213.36 L895.80,213.50 L896.59,213.63 L897.39,213.76 L898.19,213.90 L898.99,214.04 L899.79,214.18 L900.59,214.32 L901.39,214.46 L902.18,214.60 L902.98,214.75 L903.78,214.90 L904.58,215.05 L905.38,215.20 L906.18,215.35 L906.98,215.50 L907.77,215.65 L908.57,215.81 L909.37,215.97 L910.17,216.13 L910.97,216.29 L911.77,216.45 L912.56,216.61 L913.36,216.78 L914.16,216.95 L914.96,217.11 L915.76,217.28 L916.56,217.46 L917.36,217.63 L918.15,217.80 L918.95,217.98 L919.75,218.16 L920.55,218.34 L921.35,218.52 L922.15,218.70 L922.95,218.88 L923.74,219.07 L924.54,219.25 L925.34,219.44 L926.14,219.63 L926.94,219.82 L927.74,220.02 L928.53,220.21 L929.33,220.41 L930.13,220.60 L930.93,220.80 L931.73,221.00 L932.53,221.21 L933.33,221.41 L934.12,221.61 L934.92,221.82 L935.72,222.03 L936.52,222.24 L937.32,222.45 L938.12,222.66 L938.92,222.88 L939.71,223.09 L940.51,223.31 L941.31,223.53 L942.11,223.75 L942.91,223.97 L943.71,224.20 L944.50,224.42 L945.30,224.65 L946.10,224.88 L946.90,225.11" stroke="#0066ff" stroke-width="1.85" fill="none" stroke-dasharray="4.70 4.87" stroke-dashoffset="0.59"/>
<path d="M628.30,63.97 L629.10,65.18 L629.90,66.38 L630.70,67.56 L631.49,68.72 L632.29,69.86 L633.09,70.99 L633.89,72.10 L634.69,73.19 L635.49,74.26 L636.28,75.32 L637.08,76.36 L637.88,77.38 L638.68,78.38 L639.48,79.38 L640.28,80.35 L641.08,81.31 L641.87,82.25 L642.67,83.18 L643.47,84.09 L644.27,84.99 L645.07,85.88 L645.87,86.75 L646.67,87.60 L647.46,88.44 L648.26,89.27 L649.06,90.09 L649.86,90.89 L650.66,91.69 L651.46,92.47 L652.25,93.24 L653.05,94.00 L653.85,94.75 L654.65,95.50 L655.45,96.23 L656.25,96.96 L657.05,97.68 L657.84,98.39 L658.64,99.10 L659.44,99.80 L660.24,100.50 L661.04,101.19 L661.84,101.87 L662.64,102.55 L663.43,103.23 L664.23,103.89 L665.03,104.56 L665.83,105.21 L666.63,105.87 L667.43,106.51 L668.22,107.15 L669.02,107.79 L669.82,108.42 L670.62,109.05 L671.42,109.67 L672.22,110.28 L673.02,110.89 L673.81,111.50 L674.61,112.10 L675.41,112.70 L676.21,113.29 L677.01,113.87 L677.81,114.46 L678.61,115.03 L679.40,115.60 L680.20,116.17 L681.00,116.73 L681.80,117.29 L682.60,117.84 L683.40,118.39 L684.19,118.94 L684.99,119.48 L685.79,120.01 L686.59,120.55 L687.39,121.07 L688.19,121.60 L688.99,122.11 L689.78,122.63 L690.58,123.14 L691.38,123.64 L692.18,124.15 L692.98,124.65 L693.78,125.14 L694.58,125.63 L695.37,126.12 L696.17,126.60 L696.97,127.08 L697.77,127.55 L698.57,128.02 L699.37,128.49 L700.16,128.95 L700.96,129.41 L701.76,129.87 L702.56,130.32 L703.36,130.77 L704.16,131.22 L704.96,131.66 L705.75,132.10 L706.55,132.54 L707.35,132.97 L708.15,133.40 L708.95,133.83 L709.75,134.25 L710.55,134.67 L711.34,135.09 L712.14,135.50 L712.94,135.91 L713.74,136.32 L714.54,136.73 L715.34,137.13 L716.13,137.53 L716.93,137.92 L717.73,138.32 L718.53,138.71 L719.33,139.10 L720.13,139.48 L720.93,139.87 L721.72,140.25 L722.52,140.63 L723.32,141.00 L724.12,141.37 L724.92,141.74 L725.72,142.11 L726.52,142.48 L727.31,142.84 L728.11,143.21 L728.91,143.57 L729.71,143.92 L730.51,144.28 L731.31,144.63 L732.10,144.98 L732.90,145.33 L733.70,145.68 L734.50,146.02 L735.30,146.37 L736.10,146.71 L736.90,147.05 L737.69,147.39 L738.49,147.72 L739.29,148.06 L740.09,148.39 L740.89,148.72 L741.69,149.05 L742.48,149.37 L743.28,149.70 L744.08,150.02 L744.88,150.35 L745.68,150.67 L746.48,150.99 L747.28,151.31 L748.07,151.62 L748.87,151.94 L749.67,152.25 L750.47,152.56 L751.27,152.88 L752.07,153.19 L752.87,153.49 L753.66,153.80 L754.46,154.11 L755.26,154.41 L756.06,154.72 L756.86,155.02 L757.66,155.32 L758.45,155.62 L759.25,155.92 L760.05,156.22 L760.85,156.52 L761.65,156.82 L762.45,157.12 L763.25,157.41 L764.04,157.71 L764.84,158.00 L765.64,158.29 L766.44,158.59 L767.24,158.88 L768.04,159.17 L768.84,159.46 L769.63,159.75 L770.43,160.04 L771.23,160.33 L772.03,160.62 L772.83,160.91 L773.63,161.20 L774.42,161.48 L775.22,161.77 L776.02,162.06 L776.82,162.34 L777.62,162.63 L778.42,162.92 L779.22,163.20 L780.01,163.49 L780.81,163.78 L781.61,164.06 L782.41,164.35 L783.21,164.63 L784.01,164.92 L784.81,165.20 L785.60,165.49 L786.40,165.78 L787.20,166.06 L788.00,166.35 L788.80,166.63 L789.60,166.92 L790.39,167.21 L791.19,167.49 L791.99,167.78 L792.79,168.07 L793.59,168.35 L794.39,168.64 L795.19,168.93 L795.98,169.22 L796.78,169.50 L797.58,169.79 L798.38,170.08 L799.18,170.37 L799.98,170.65 L800.78,170.94 L801.57,171.23 L802.37,171.52 L803.17,171.81 L803.97,172.10 L804.77,172.39 L805.57,172.68 L806.36,172.96 L807.16,173.25 L807.96,173.54 L808.76,173.83 L809.56,174.12 L810.36,174.41 L811.16,174.70 L811.95,174.99 L812.75,175.28 L813.55,175.58 L814.35,175.87 L815.15,176.16 L815.95,176.45 L816.75,176.74 L817.54,177.03 L818.34,177.32 L819.14,177.62 L819.94,177.91 L820.74,178.20 L821.54,178.49 L822.33,178.79 L823.13,179.08 L823.93,179.37 L824.73,179.67 L825.53,179.96 L826.33,180.25 L827.13,180.55 L827.92,180.84 L828.72,181.14 L829.52,181.43 L830.32,181.72 L831.12,182.02 L831.92,182.31 L832.72,182.61 L833.51,182.91 L834.31,183.20 L835.11,183.50 L835.91,183.79 L836.71,184.09 L837.51,184.39 L838.30,184.68 L839.10,184.98 L839.90,185.28 L840.70,185.57 L841.50,185.87 L842.30,186.17 L843.10,186.47 L843.89,186.77 L844.69,187.06 L845.49,187.36 L846.29,187.66 L847.09,187.96 L847.89,188.26 L848.68,188.56 L849.48,188.86 L850.28,189.16 L851.08,189.45 L851.88,189.75 L852.68,190.05 L853.48,190.35 L854.27,190.65 L855.07,190.95 L855.87,191.25 L856.67,191.55 L857.47,191.85 L858.27,192.15 L859.07,192.45 L859.86,192.75 L860.66,193.05 L861.46,193.35 L862.26,193.65 L863.06,193.96 L863.86,194.26 L864.65,194.56 L865.45,194.86 L866.25,195.16 L867.05,195.46 L867.85,195.76 L868.65,196.06 L869.45,196.36 L870.24,196.66 L871.04,196.96 L871.84,197.26 L872.64,197.56 L873.44,197.87 L874.24,198.17 L875.04,198.47 L875.83,198.77 L876.63,199.07 L877.43,199.37 L878.23,199.67 L879.03,199.97 L879.83,200.27 L880.62,200.57 L881.42,200.87 L882.22,201.17 L883.02,201.47 L883.82,201.78 L884.62,202.08 L885.42,202.38 L886.21,202.68 L887.01,202.98 L887.81,203.28 L888.61,203.58 L889.41,203.88 L890.21,204.18 L891.01,204.48 L891.80,204.78 L892.60,205.08 L893.40,205.37 L894.20,205.67 L895.00,205.97 L895.80,206.27 L896.59,206.57 L897.39,206.87 L898.19,207.17 L898.99,207.47 L899.79,207.77 L900.59,208.06 L901.39,208.36 L902.18,208.66 L902.98,208.96 L903.78,209.26 L904.58,209.55 L905.38,209.85 L906.18,210.15 L906.98,210.44 L907.77,210.74 L908.57,211.04 L909.37,211.33 L910.17,211.63 L910.97,211.93 L911.77,212.22 L912.56,212.52 L913.36,212.81 L914.16,213.11 L914.96,213.40 L915.76,213.70 L916.56,213.99 L917.36,214.29 L918.15,214.58 L918.95,214.87 L919.75,215.17 L920.55,215.46 L921.35,215.75 L922.15,216.04 L922.95,216.34 L923.74,216.63 L924.54,216.92 L925.34,217.21 L926.14,217.50 L926.94,217.79 L927.74,218.08 L928.53,218.37 L929.33,218.66 L930.13,218.95 L930.93,219.24 L931.73,219.53 L932.53,219.82 L933.33,220.11 L934.12,220.40 L934.92,220.69 L935.72,220.97 L936.52,221.26 L937.32,221.55 L938.12,221.83 L938.92,222.12 L939.71,222.40 L940.51,222.69 L941.31,222.97 L942.11,223.26 L942.91,223.54 L943.71,223.83 L944.50,224.11 L945.30,224.39 L946.10,224.68 L946.90,224.96" stroke="#cc00ff" stroke-width="1.85" fill="none" stroke-dasharray="7.60 5.10" stroke-dashoffset="11.85"/>
</g>
<path d="M627.95,56.80 V376.45" stroke="#8a8a8a" stroke-width="2.0" fill="none"/>
<path d="M626.95,375.85 H947.50" stroke="#707070" stroke-width="1.3" fill="none"/>
<path d="M626.95,57.40 H947.50" stroke="#6a6a6a" stroke-width="1.4" fill="none"/>
<path d="M946.90,56.80 V376.45" stroke="#5a5a5a" stroke-width="1.2" fill="none"/>
<path d="M636.05,375.85 v-1.50 M636.05,57.40 v1.50 M649.90,375.85 v-1.50 M649.90,57.40 v1.50 M663.75,375.85 v-1.50 M663.75,57.40 v1.50 M677.60,375.85 v-2.50 M677.60,57.40 v2.50 M691.45,375.85 v-1.50 M691.45,57.40 v1.50 M705.30,375.85 v-1.50 M705.30,57.40 v1.50 M719.15,375.85 v-1.50 M719.15,57.40 v1.50 M733.00,375.85 v-2.50 M733.00,57.40 v2.50 M746.85,375.85 v-1.50 M746.85,57.40 v1.50 M760.70,375.85 v-1.50 M760.70,57.40 v1.50 M774.55,375.85 v-1.50 M774.55,57.40 v1.50 M788.40,375.85 v-2.50 M788.40,57.40 v2.50 M802.25,375.85 v-1.50 M802.25,57.40 v1.50 M816.10,375.85 v-1.50 M816.10,57.40 v1.50 M829.95,375.85 v-1.50 M829.95,57.40 v1.50 M843.80,375.85 v-2.50 M843.80,57.40 v2.50 M857.65,375.85 v-1.50 M857.65,57.40 v1.50 M871.50,375.85 v-1.50 M871.50,57.40 v1.50 M885.35,375.85 v-1.50 M885.35,57.40 v1.50 M899.20,375.85 v-2.50 M899.20,57.40 v2.50 M913.05,375.85 v-1.50 M913.05,57.40 v1.50 M926.90,375.85 v-1.50 M926.90,57.40 v1.50 M940.75,375.85 v-1.50 M940.75,57.40 v1.50 M628.00,369.86 h1.70 M946.90,369.86 h-1.70 M628.00,358.74 h1.70 M946.90,358.74 h-1.70 M628.00,347.62 h1.70 M946.90,347.62 h-1.70 M628.00,336.50 h2.70 M946.90,336.50 h-2.70 M628.00,325.38 h1.70 M946.90,325.38 h-1.70 M628.00,314.26 h1.70 M946.90,314.26 h-1.70 M628.00,303.14 h1.70 M946.90,303.14 h-1.70 M628.00,292.02 h1.70 M946.90,292.02 h-1.70 M628.00,280.90 h2.70 M946.90,280.90 h-2.70 M628.00,269.78 h1.70 M946.90,269.78 h-1.70 M628.00,258.66 h1.70 M946.90,258.66 h-1.70 M628.00,247.54 h1.70 M946.90,247.54 h-1.70 M628.00,236.42 h1.70 M946.90,236.42 h-1.70 M628.00,225.30 h2.70 M946.90,225.30 h-2.70 M628.00,214.18 h1.70 M946.90,214.18 h-1.70 M628.00,203.06 h1.70 M946.90,203.06 h-1.70 M628.00,191.94 h1.70 M946.90,191.94 h-1.70 M628.00,180.82 h1.70 M946.90,180.82 h-1.70 M628.00,169.70 h2.70 M946.90,169.70 h-2.70 M628.00,158.58 h1.70 M946.90,158.58 h-1.70 M628.00,147.46 h1.70 M946.90,147.46 h-1.70 M628.00,136.34 h1.70 M946.90,136.34 h-1.70 M628.00,125.22 h1.70 M946.90,125.22 h-1.70 M628.00,114.10 h2.70 M946.90,114.10 h-2.70 M628.00,102.98 h1.70 M946.90,102.98 h-1.70 M628.00,91.86 h1.70 M946.90,91.86 h-1.70 M628.00,80.74 h1.70 M946.90,80.74 h-1.70 M628.00,69.62 h1.70 M946.90,69.62 h-1.70 M628.00,58.50 h2.70 M946.90,58.50 h-2.70" stroke="#282828" stroke-width="0.8" fill="none"/>
<text x="677.60" y="394.10" font-size="18.20" text-anchor="middle">0.6</text>
<text x="733.00" y="394.10" font-size="18.20" text-anchor="middle">0.8</text>
<text x="788.40" y="394.10" font-size="18.20" text-anchor="middle">1</text>
<text x="843.80" y="394.10" font-size="18.20" text-anchor="middle">1.2</text>
<text x="899.20" y="394.10" font-size="18.20" text-anchor="middle">1.4</text>
<text transform="matrix(0.2071 0 0 0.2500 545.19 286.55)" font-size="100" style="letter-spacing:0;stroke-width:1.75px;font-weight:normal">-</text>
<text transform="matrix(0.2036 0 0 0.2500 556.84 342.15)" font-size="100" style="letter-spacing:0;stroke-width:1.76px;font-weight:normal">-</text>
<text x="619.50" y="63.70" font-size="18.20" text-anchor="end">0.015</text>
<text x="619.50" y="119.30" font-size="18.20" text-anchor="end">0.01</text>
<text x="619.50" y="174.90" font-size="18.20" text-anchor="end">0.005</text>
<text x="619.50" y="230.50" font-size="18.20" text-anchor="end">0</text>
<text x="619.50" y="286.10" font-size="18.20" text-anchor="end">0.005</text>
<text x="619.50" y="341.70" font-size="18.20" text-anchor="end">0.01</text>
<text transform="matrix(0.2087 0 0 0.1853 781.15 412.41)" font-size="100" style="letter-spacing:0;stroke-width:4.06px;font-weight:normal">q</text>
<line x1="800.9" y1="76.50" x2="813.6" y2="76.50" stroke="#ff0000" stroke-width="1.0" stroke-opacity="0.32" />
<line x1="800.9" y1="96.50" x2="813.6" y2="96.50" stroke="#ccff00" stroke-width="1.0" stroke-opacity="0.50" stroke-dasharray="1.7 0.6"/>
<line x1="800.9" y1="117.50" x2="813.6" y2="117.50" stroke="#00ff66" stroke-width="1.0" stroke-opacity="0.42" stroke-dasharray="2 0.5"/>
<line x1="800.9" y1="137.50" x2="813.6" y2="137.50" stroke="#0066ff" stroke-width="1.0" stroke-opacity="0.40" stroke-dasharray="1.4 1.1"/>
<line x1="800.9" y1="158.00" x2="813.6" y2="158.00" stroke="#cc00ff" stroke-width="2.0" stroke-opacity="0.25" stroke-dasharray="2.2 1.2"/>
<text transform="matrix(0.1806 0 0 0.1532 821.00 80.78)" font-size="100" style="letter-spacing:0;stroke-width:4.79px;font-weight:normal">j</text>
<text transform="matrix(0.1537 0 0 0.1019 830.41 83.60)" font-size="100" style="letter-spacing:0;stroke-width:6.26px;font-weight:normal">r</text>
<text transform="matrix(0.1806 0 0 0.1532 821.00 101.28)" font-size="100" style="letter-spacing:0;stroke-width:4.79px;font-weight:normal">j</text>
<text transform="matrix(0.1370 0 0 0.1187 831.28 104.01)" font-size="100" style="letter-spacing:0;stroke-width:6.26px;font-weight:normal">q</text>
<text transform="matrix(0.2109 0 0 0.1373 819.83 121.32)" font-size="100" style="letter-spacing:0;stroke-width:4.60px;font-weight:normal">g</text>
<text transform="matrix(0.1488 0 0 0.1019 830.66 124.50)" font-size="100" style="letter-spacing:0;stroke-width:6.38px;font-weight:normal">r</text>
<text transform="matrix(0.2109 0 0 0.1373 819.83 141.72)" font-size="100" style="letter-spacing:0;stroke-width:4.60px;font-weight:normal">g</text>
<text transform="matrix(0.1326 0 0 0.1200 831.50 144.28)" font-size="100" style="letter-spacing:0;stroke-width:6.33px;font-weight:normal">q</text>
<text transform="matrix(0.2109 0 0 0.1387 819.83 162.59)" font-size="100" style="letter-spacing:0;stroke-width:4.58px;font-weight:normal">q</text>
</g></svg></body></html>
